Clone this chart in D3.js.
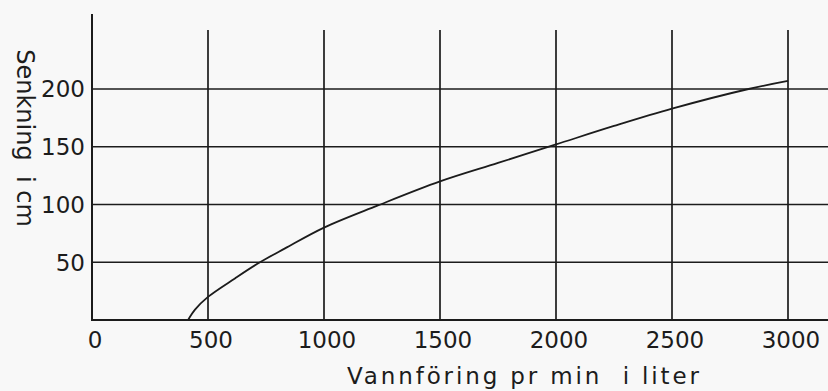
<!DOCTYPE html>
<html>
<head>
<meta charset="utf-8">
<script src="https://cdn.jsdelivr.net/npm/d3@7"></script>
<style>
  html, body { margin: 0; padding: 0; background: #f8f8f8; }
  svg { display: block; }
  text { font-family: "DejaVu Sans", sans-serif; fill: #1c1c1c; }
</style>
</head>
<body>
<svg id="chart" width="828" height="391"></svg>
<script>
// Data
const flowValues = [414, 444, 500, 616, 724, 832, 1000, 1230, 1500, 1750, 2000, 2250, 2500, 2830, 3000];
const drawdownValues = [0, 9, 20, 36, 50, 62, 80, 99, 120, 136, 152, 168, 183, 200, 207];
const xTicks = [0, 500, 1000, 1500, 2000, 2500, 3000];
const yTicks = [50, 100, 150, 200];
const xTitle = "Vannföring pr min  i liter";
const yTitle = "Senkning  i cm";

const W = 828, H = 391;
const x0 = 92, x3000 = 788, yBase = 320, y200 = 89;
const x = d3.scaleLinear().domain([0, 3000]).range([x0, x3000]);
const y = d3.scaleLinear().domain([0, 200]).range([yBase, y200]);
const ink = "#1c1c1c";

const svg = d3.select("#chart");

// horizontal grid lines
svg.append("g").selectAll("line").data(yTicks).join("line")
  .attr("x1", x(0)).attr("x2", W)
  .attr("y1", d => y(d)).attr("y2", d => y(d))
  .attr("stroke", ink).attr("stroke-width", 1.7);

// vertical grid lines
svg.append("g").selectAll("line").data(xTicks.filter(d => d > 0)).join("line")
  .attr("x1", d => x(d)).attr("x2", d => x(d))
  .attr("y1", y(0)).attr("y2", y(251))
  .attr("stroke", ink).attr("stroke-width", 1.7);

// x axis line
svg.append("line")
  .attr("x1", x(0)).attr("x2", W)
  .attr("y1", y(0)).attr("y2", y(0))
  .attr("stroke", ink).attr("stroke-width", 2);

// y axis line
svg.append("line")
  .attr("x1", x(0)).attr("x2", x(0))
  .attr("y1", y(0) + 1).attr("y2", y(265))
  .attr("stroke", ink).attr("stroke-width", 2);

// x tick labels
svg.append("g").selectAll("text").data(xTicks).join("text")
  .attr("x", d => x(d) + 3).attr("y", 348)
  .attr("text-anchor", "middle")
  .attr("font-size", 23)
  .text(d => d);

// y tick labels
svg.append("g").selectAll("text").data(yTicks).join("text")
  .attr("x", x(0) - 7).attr("y", d => y(d))
  .attr("dy", "0.36em")
  .attr("text-anchor", "end")
  .attr("font-size", 23)
  .text(d => d);

// curve
const pts = flowValues.map((v, i) => [v, drawdownValues[i]]);
const line = d3.line()
  .x(d => x(d[0])).y(d => y(d[1]))
  .curve(d3.curveCatmullRom.alpha(0.5));
svg.append("path")
  .datum(pts)
  .attr("d", line)
  .attr("fill", "none")
  .attr("stroke", ink)
  .attr("stroke-width", 1.8);

// x title
svg.append("text")
  .attr("x", 347).attr("y", 384)
  .attr("font-size", 23)
  .attr("textLength", 352)
  .attr("lengthAdjust", "spacing")
  .style("white-space", "pre")
  .text(xTitle);

// y title
svg.append("text")
  .attr("transform", "translate(17,138) rotate(90)")
  .attr("text-anchor", "middle")
  .attr("font-size", 24)
  .style("white-space", "pre")
  .text(yTitle);
</script>
</body>
</html>
